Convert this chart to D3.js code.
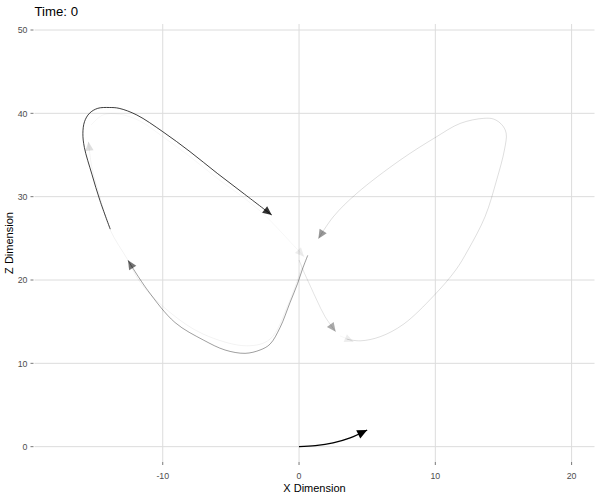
<!DOCTYPE html>
<html>
<head>
<meta charset="utf-8">
<script src="https://cdn.jsdelivr.net/npm/d3@7"></script>
<style>
  body { margin: 0; background: #fff; }
  svg text { font-family: "Liberation Sans", Arial, sans-serif; }
</style>
</head>
<body>
<div id="chart"></div>
<script>
// tick values
const xTicks = [-10, 0, 10, 20];
const zTicks = [0, 10, 20, 30, 40, 50];

// trajectory pieces (x, z), oldest first, with their fade level
const trailLeftInner = [[0.2, 21.5], [-0.79, 17.1], [-2.13, 12.9], [-3.84, 12.1], [-7.02, 13.5], [-9.46, 16.1],
  [-11.6, 19.6], [-12.6, 22.5], [-13.85, 26.0], [-14.7, 30.5], [-15.2, 33.5], [-15.45, 36.6]];
const trailTopInner = [[-15.25, 38.6], [-14.4, 39.8], [-13.2, 39.9], [-11.7, 39.1], [-10, 37.2], [-8, 34.8],
  [-6, 32.2], [-4, 29.8], [-2.4, 27.6], [-1.0, 25.2], [0.37, 22.8]];
const trailTiny = [[3.0, 13.3], [4.0, 12.6]];
const trailCross = [[0.0, 22.4], [0.4, 20.8], [0.85, 19.2], [1.3, 17.6], [1.91, 15.6], [2.69, 13.8]];
const trailRight = [[3.5, 12.9], [4.5, 12.7], [5.96, 13.2], [7.67, 14.7], [9.88, 18.1], [11.5, 21.2], [12.4, 23.6],
  [13.65, 27.6], [14.5, 32.0], [15.07, 35.6], [15.2, 37.6], [14.9, 38.6], [14.3, 39.3], [13.55, 39.4],
  [11.84, 38.8], [10.0, 37.1], [7.43, 34.4], [4.24, 30.4], [2.52, 27.6], [1.42, 24.96]];
const trailBottom = [[0.64, 22.96], [0.25, 21.3], [-0.1, 19.6], [-0.66, 17.3], [-1.39, 14.3], [-2.13, 12.3],
  [-2.86, 11.6], [-3.96, 11.2], [-5.43, 11.6], [-7.02, 12.8], [-9.1, 14.9], [-11.1, 18.75], [-12.55, 22.36]];
const trailLeft = [[-13.85, 26.1], [-14.6, 29.5], [-15.2, 32.7], [-15.75, 35.9], [-15.86, 37.6], [-15.74, 39.0],
  [-15.38, 40.0], [-14.77, 40.6], [-13.92, 40.7], [-13.2, 40.6], [-11.9, 39.8], [-10.0, 37.8], [-8, 35.4],
  [-6.0, 32.8], [-4, 30.3], [-2.0, 27.8]];
const current = [[0, 0], [1.2, 0.12], [2.5, 0.45], [3.75, 1.05], [5.0, 2.0]];

const trails = [
  { pts: trailLeftInner, alpha: 0.13, lineAlpha: 0.1, w: 0.5 },
  { pts: trailTopInner, alpha: 0.07, lineAlpha: 0.07, w: 0.5 },
  { pts: trailTiny, alpha: 0.07, lineAlpha: 0.07, w: 0.5 },
  { pts: trailCross, alpha: 0.33, lineAlpha: 0.22, w: 0.5 },
  { pts: trailRight, alpha: 0.4, lineAlpha: 0.26, w: 0.5 },
  { pts: trailBottom, alpha: 0.55, lineAlpha: 0.55, w: 0.7 },
  { pts: trailLeft, alpha: 0.8, lineAlpha: 0.8, w: 0.95 },
  { pts: current, alpha: 1, lineAlpha: 1, w: 1.4, head: true }
];

const width = 600, height = 500;
const panel = { left: 34.5, right: 594.5, top: 24, bottom: 462 };

const svg = d3.select("#chart").append("svg")
  .attr("width", width)
  .attr("height", height);

const x = d3.scaleLinear().domain([-19.41, 21.68]).range([panel.left, panel.right]);
const y = d3.scaleLinear().domain([-1.84, 50.72]).range([panel.bottom, panel.top]);

// grid
svg.append("g").selectAll("line")
  .data(xTicks)
  .enter().append("line")
  .attr("x1", d => x(d)).attr("x2", d => x(d))
  .attr("y1", panel.top).attr("y2", panel.bottom)
  .attr("stroke", "#dcdcdc").attr("stroke-width", 1);

svg.append("g").selectAll("line")
  .data(zTicks)
  .enter().append("line")
  .attr("x1", panel.left).attr("x2", panel.right)
  .attr("y1", d => y(d)).attr("y2", d => y(d))
  .attr("stroke", "#dcdcdc").attr("stroke-width", 1);

// ticks + labels
svg.append("g").selectAll("line")
  .data(xTicks)
  .enter().append("line")
  .attr("x1", d => x(d)).attr("x2", d => x(d))
  .attr("y1", panel.bottom).attr("y2", panel.bottom + 3)
  .attr("stroke", "#555").attr("stroke-width", 0.8);

svg.append("g").selectAll("text")
  .data(xTicks)
  .enter().append("text")
  .attr("x", d => x(d))
  .attr("y", 479.3)
  .attr("text-anchor", "middle")
  .attr("font-size", 8.8)
  .attr("fill", "#4d4d4d")
  .text(d => d);

svg.append("g").selectAll("line")
  .data(zTicks)
  .enter().append("line")
  .attr("x1", panel.left - 4).attr("x2", panel.left - 1)
  .attr("y1", d => y(d)).attr("y2", d => y(d))
  .attr("stroke", "#555").attr("stroke-width", 0.8);

svg.append("g").selectAll("text")
  .data(zTicks)
  .enter().append("text")
  .attr("x", 27.5)
  .attr("y", d => y(d) + 3.2)
  .attr("text-anchor", "end")
  .attr("font-size", 8.8)
  .attr("fill", "#4d4d4d")
  .text(d => d);

// titles
svg.append("text")
  .attr("x", panel.left)
  .attr("y", 16)
  .attr("font-size", 13.2)
  .attr("fill", "#000")
  .text("Time: 0");

svg.append("text")
  .attr("x", (panel.left + panel.right) / 2)
  .attr("y", 492)
  .attr("text-anchor", "middle")
  .attr("font-size", 11)
  .attr("fill", "#000")
  .text("X Dimension");

svg.append("text")
  .attr("transform", "translate(13," + (panel.top + panel.bottom) / 2 + ") rotate(-90)")
  .attr("text-anchor", "middle")
  .attr("font-size", 11)
  .attr("fill", "#000")
  .text("Z Dimension");

// trails with arrow heads
const line = d3.line()
  .x(d => x(d[0]))
  .y(d => y(d[1]))
  .curve(d3.curveCatmullRom.alpha(0.5));

trails.forEach(function(t) {
  const g = svg.append("g");
  const path = g.append("path")
    .attr("d", line(t.pts))
    .attr("fill", "none")
    .attr("stroke", "#000")
    .attr("stroke-opacity", t.lineAlpha)
    .attr("stroke-width", t.w);

  const node = path.node();
  const total = node.getTotalLength();
  const tip = node.getPointAtLength(total);
  const back = node.getPointAtLength(Math.max(0, total - 5));
  const ang = Math.atan2(tip.y - back.y, tip.x - back.x);
  const len = t.head ? 10 : 9;
  const hw = t.head ? 4.6 : 4.2;
  const bx = tip.x - len * Math.cos(ang), by = tip.y - len * Math.sin(ang);
  const px = -Math.sin(ang) * hw, py = Math.cos(ang) * hw;

  g.append("polygon")
    .attr("points", [[tip.x, tip.y], [bx + px, by + py], [bx - px, by - py]].map(p => p.join(",")).join(" "))
    .attr("fill", "#000")
    .attr("fill-opacity", t.alpha);
});
</script>
</body>
</html>
